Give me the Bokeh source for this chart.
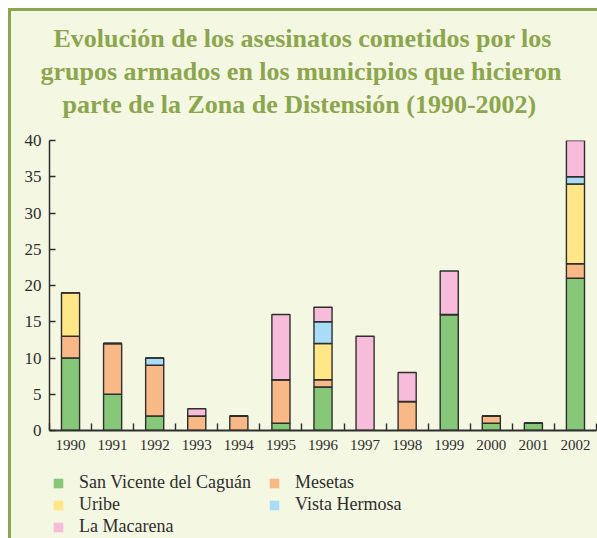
from bokeh.plotting import figure
from bokeh.layouts import column
from bokeh.models import FixedTicker, Legend, LegendItem, Title, ColumnDataSource, Range1d
from bokeh.embed import file_html
from bokeh.resources import INLINE

years = [1990, 1991, 1992, 1993, 1994, 1995, 1996, 1997, 1998, 1999, 2000, 2001, 2002]
san_vicente = [10, 5, 2, 0, 0, 1, 6, 0, 0, 16, 1, 1, 21]
mesetas = [3, 7, 7, 2, 2, 6, 1, 0, 4, 0, 1, 0, 2]
uribe = [6, 0, 0, 0, 0, 0, 5, 0, 0, 0, 0, 0, 11]
vista_hermosa = [0, 0, 1, 0, 0, 0, 3, 0, 0, 0, 0, 0, 1]
la_macarena = [0, 0, 0, 1, 0, 9, 2, 13, 4, 6, 0, 0, 5]

series_keys = ["san_vicente", "mesetas", "uribe", "vista_hermosa", "la_macarena"]
series_names = ["San Vicente del Caguán", "Mesetas", "Uribe", "Vista Hermosa", "La Macarena"]
colors = ["#86c878", "#f9b986", "#ffe687", "#a9dcf6", "#f6bcd9"]
y_ticks = [0, 5, 10, 15, 20, 25, 30, 35, 40]

title_lines = ["Evolución de los asesinatos cometidos por los",
               "grupos armados en los municipios que hicieron",
               "parte de la Zona de Distensión (1990-2002)"]

CREAM = "#f4f7e2"
OLIVE = "#8ca64e"
DARK = "#2e2e2e"
SERIF = "Liberation Serif"

src = ColumnDataSource(dict(year=years, san_vicente=san_vicente, mesetas=mesetas,
                            uribe=uribe, vista_hermosa=vista_hermosa,
                            la_macarena=la_macarena))

# ---------------- main chart ----------------
p = figure(width=586, height=449, output_backend="svg", toolbar_location=None,
           title=None,
           x_range=(years[0] - 0.5, years[-1] + 0.5), y_range=(0, 40),
           min_border_left=38, min_border_right=1, min_border_top=129,
           min_border_bottom=30)

p.background_fill_color = CREAM
p.border_fill_color = CREAM
p.outline_line_color = None
p.grid.grid_line_color = None

# spacing between the title block and the plot area
p.add_layout(Title(text=" ", text_font=SERIF, text_font_size="10px",
                   standoff=8), "above")
# three centred title lines (added nearest-to-frame first)
title_offsets = [4, -9, 13]
for k in [2, 1, 0]:
    p.add_layout(Title(text=title_lines[k], align="left", offset=title_offsets[k],
                       standoff=2, text_font=SERIF,
                       text_font_size="26px", text_font_style="bold",
                       text_color=OLIVE), "above")

renderers = p.vbar_stack(series_keys, x="year", width=0.43, color=colors, source=src,
                         line_color=DARK, line_width=1.4)

xa = p.xaxis[0]
xa.ticker = FixedTicker(ticks=years,
                        minor_ticks=[y - 0.5 for y in years] + [years[-1] + 0.5])
xa.major_tick_in = 0
xa.major_tick_out = 0
xa.minor_tick_in = 7
xa.minor_tick_out = 0
xa.minor_tick_line_color = DARK
xa.minor_tick_line_width = 1.4
xa.axis_line_color = DARK
xa.axis_line_width = 2
xa.major_label_text_font = SERIF
xa.major_label_text_font_size = "15px"
xa.major_label_text_color = DARK
xa.major_label_standoff = 9

ya = p.yaxis[0]
ya.ticker = FixedTicker(ticks=y_ticks)
ya.major_tick_in = 6
ya.major_tick_out = 0
ya.minor_tick_line_color = None
ya.major_tick_line_color = DARK
ya.major_tick_line_width = 1.4
ya.axis_line_color = DARK
ya.axis_line_width = 1.5
ya.major_label_text_font = SERIF
ya.major_label_text_font_size = "17px"
ya.major_label_text_color = DARK
ya.major_label_standoff = 8

# ---------------- legend strip ----------------
lg = figure(width=586, height=78, output_backend="svg", toolbar_location=None,
            x_range=Range1d(0, 1), y_range=Range1d(0, 1),
            x_axis_location=None, y_axis_location=None,
            min_border=0, min_border_left=0, min_border_right=0,
            min_border_top=0, min_border_bottom=0)
lg.grid.grid_line_color = None
lg.outline_line_color = None
lg.background_fill_color = CREAM
lg.border_fill_color = CREAM

nan = float("nan")
order = [0, 2, 4, 1, 3]
items = []
for i in order:
    r = lg.vbar(x=[nan], top=[nan], width=0.4, fill_color=colors[i], line_color=None)
    items.append(LegendItem(label=series_names[i], renderers=[r]))

legend = Legend(items=items, ncols=2, location=(-2, -4), margin=0, padding=5,
                spacing=1, glyph_width=12, glyph_height=12, label_standoff=15,
                label_width=188, label_height=20,
                label_text_font=SERIF, label_text_font_size="18px",
                label_text_color=DARK, background_fill_alpha=0,
                border_line_alpha=0)
lg.add_layout(legend)

layout = column(p, lg, spacing=0)
layout.styles = {"margin-left": "8px", "margin-top": "8px",
                 "border-left": f"3px solid {OLIVE}", "border-top": f"3px solid {OLIVE}",
                 "background-color": CREAM}

open("out.html", "w").write(file_html(layout, INLINE))
